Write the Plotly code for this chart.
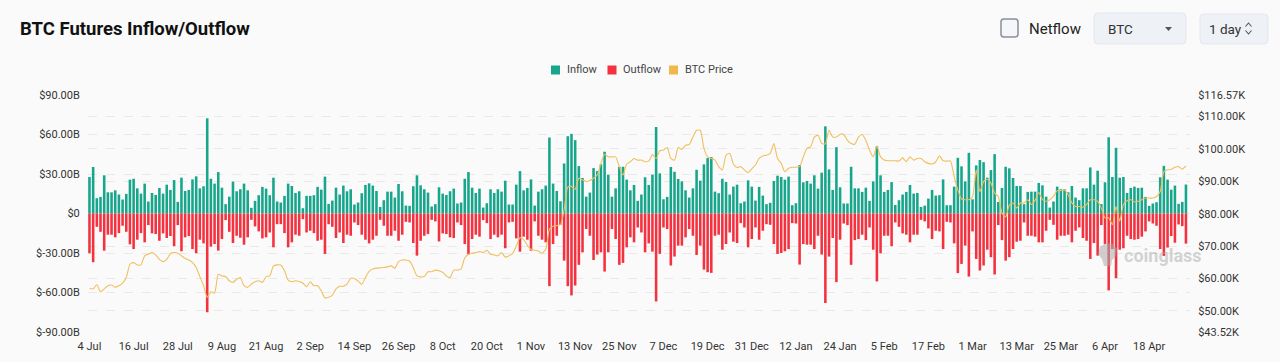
import plotly.graph_objects as go
import pandas as pd

# ---------------- data ----------------
START_DATE = "2024-07-04"

INFLOW_B = [
    27.7, 35.3, 11.6, 12.6, 29.0, 16.1, 16.1, 17.6, 14.4, 10.6,
    14.9, 25.7, 26.4, 19.1, 15.1, 22.7, 9.1, 15.6, 14.1, 19.4,
    15.1, 21.9, 17.9, 25.4, 8.8, 27.2, 17.1, 17.9, 25.9, 28.2,
    19.1, 20.7, 72.3, 26.4, 22.7, 31.5, 19.6, 7.1, 12.8, 24.2,
    16.9, 18.4, 22.7, 17.6, 4.3, 9.6, 13.9, 20.2, 18.9, 13.9,
    27.2, 9.1, 8.3, 13.4, 22.7, 20.9, 15.6, 16.9, 4.0, 13.4,
    13.4, 13.9, 20.2, 18.1, 28.0, 7.3, 9.8, 19.6, 14.4, 21.2,
    16.9, 18.4, 6.8, 8.3, 15.4, 21.7, 22.9, 21.2, 17.1, 5.0,
    10.1, 16.6, 16.6, 12.1, 22.4, 16.9, 6.0, 5.8, 20.7, 29.0,
    21.4, 18.4, 15.9, 5.3, 7.1, 19.9, 15.1, 14.1, 16.9, 18.9,
    7.6, 8.3, 26.4, 31.5, 19.6, 15.6, 18.9, 4.5, 7.8, 18.4,
    15.6, 18.4, 16.6, 24.9, 6.8, 6.8, 21.9, 32.2, 17.6, 19.4,
    25.9, 6.0, 16.6, 18.4, 21.2, 57.7, 22.7, 17.1, 9.3, 38.0,
    58.7, 60.5, 55.7, 36.0, 27.0, 12.8, 15.9, 34.5, 32.2, 37.3,
    46.9, 29.5, 12.8, 19.1, 35.5, 35.5, 25.7, 17.6, 21.7, 9.6,
    14.4, 27.5, 21.7, 29.5, 65.7, 30.5, 10.8, 12.6, 35.3, 31.7,
    26.2, 24.4, 17.6, 12.1, 19.1, 33.2, 24.9, 37.3, 42.1, 42.8,
    16.6, 15.4, 26.4, 23.9, 14.4, 20.4, 21.9, 7.8, 9.1, 25.2,
    20.4, 9.8, 20.2, 13.6, 7.1, 8.1, 24.7, 28.7, 27.7, 25.7,
    28.0, 6.3, 7.8, 36.8, 23.7, 24.7, 22.7, 29.0, 18.9, 31.0,
    66.2, 33.5, 17.9, 50.4, 19.9, 7.6, 7.6, 35.5, 19.1, 19.1,
    16.4, 19.6, 9.6, 24.4, 51.1, 29.0, 16.4, 17.9, 23.9, 6.5,
    10.1, 14.4, 16.4, 21.7, 15.1, 15.6, 5.0, 6.0, 11.3, 17.9,
    13.6, 13.9, 25.9, 6.3, 6.3, 20.4, 42.3, 35.8, 24.4, 46.1,
    10.8, 36.5, 40.6, 39.0, 27.2, 33.0, 45.1, 8.8, 19.4, 35.5,
    34.3, 27.0, 20.9, 20.9, 7.1, 16.4, 16.6, 16.6, 23.2, 21.4,
    12.8, 4.5, 9.1, 20.4, 18.4, 18.4, 16.1, 20.9, 12.1, 10.1,
    19.1, 19.1, 35.0, 21.9, 32.5, 7.1, 23.7, 57.9, 27.7, 49.9,
    27.2, 27.7, 15.6, 19.4, 20.4, 19.4, 19.6, 12.6, 5.8, 7.6,
    8.6, 27.5, 36.2, 25.7, 18.1, 21.2, 7.3, 8.8, 22.0,
]

OUTFLOW_B = [
    30.2, 37.0, 10.1, 13.9, 28.2, 16.1, 16.1, 18.1, 14.9, 9.3,
    13.9, 23.4, 27.0, 19.9, 14.9, 21.9, 8.8, 15.1, 15.6, 20.7,
    15.1, 18.6, 17.1, 24.9, 8.8, 28.7, 18.1, 17.1, 27.0, 30.2,
    19.9, 22.7, 75.0, 25.2, 23.2, 28.2, 19.4, 5.0, 13.9, 22.4,
    16.9, 18.4, 23.7, 18.1, 4.8, 9.8, 13.6, 18.9, 18.1, 14.4,
    25.7, 8.1, 8.1, 14.9, 25.7, 21.9, 16.1, 16.9, 4.3, 14.4,
    13.1, 14.9, 20.7, 19.9, 30.7, 8.1, 10.1, 18.6, 14.4, 22.4,
    16.1, 16.9, 6.8, 8.8, 16.1, 19.9, 22.7, 19.9, 16.9, 4.8,
    9.3, 16.9, 16.9, 13.1, 20.7, 16.1, 6.3, 6.8, 22.4, 32.0,
    20.7, 16.9, 15.6, 4.8, 6.0, 21.2, 15.1, 15.6, 18.1, 18.6,
    6.8, 8.8, 23.2, 31.2, 19.4, 16.1, 17.6, 5.0, 7.3, 19.4,
    16.1, 18.1, 16.1, 26.4, 6.8, 6.3, 18.9, 29.0, 17.6, 19.9,
    28.2, 6.0, 16.9, 19.9, 21.9, 55.2, 23.2, 16.9, 8.6, 35.8,
    55.2, 62.2, 54.7, 39.0, 29.5, 11.8, 16.9, 35.3, 31.2, 29.5,
    44.1, 29.5, 11.8, 19.4, 39.0, 37.5, 25.7, 18.1, 21.9, 10.6,
    14.4, 29.5, 22.7, 29.0, 66.8, 30.7, 10.6, 11.8, 39.5, 32.7,
    24.4, 24.4, 18.1, 11.8, 16.9, 31.5, 24.4, 42.6, 44.6, 45.1,
    16.9, 16.1, 27.5, 23.2, 14.4, 21.4, 22.4, 7.3, 10.6, 25.7,
    19.4, 10.6, 19.9, 13.1, 8.1, 8.6, 23.2, 30.7, 30.0, 28.7,
    27.0, 7.3, 7.6, 38.8, 23.2, 23.7, 23.7, 27.0, 16.9, 31.2,
    68.0, 32.7, 18.6, 52.1, 19.9, 7.6, 8.8, 39.0, 20.2, 19.4,
    16.1, 20.2, 10.6, 27.5, 51.6, 30.2, 16.9, 16.9, 24.9, 6.8,
    10.1, 15.1, 16.1, 21.9, 16.1, 16.1, 4.8, 6.0, 11.3, 19.4,
    13.1, 13.6, 27.0, 6.3, 6.8, 22.7, 45.3, 38.3, 24.4, 47.9,
    13.6, 34.5, 43.3, 39.5, 27.5, 33.2, 46.3, 8.8, 20.2, 35.8,
    33.2, 27.0, 21.4, 20.7, 6.8, 16.9, 16.9, 17.6, 21.9, 21.9,
    13.1, 4.8, 8.6, 19.9, 16.9, 16.9, 16.1, 21.9, 13.1, 10.6,
    18.6, 20.7, 34.5, 22.4, 32.0, 8.8, 23.2, 58.4, 27.0, 49.1,
    27.5, 26.4, 16.9, 19.4, 19.9, 19.4, 17.6, 13.6, 6.0, 7.6,
    9.3, 27.0, 32.2, 25.9, 17.1, 22.2, 8.3, 9.6, 22.9,
]

BTC_PRICE_K = [
    57.0, 56.8, 58.1, 55.9, 56.8, 57.8, 58.0, 57.3, 57.8, 58.6,
    60.3, 64.4, 64.9, 64.2, 64.2, 67.0, 67.5, 68.0, 67.3, 65.9,
    65.2, 65.9, 67.7, 68.0, 67.8, 67.0, 66.2, 65.7, 64.9, 63.4,
    60.6, 57.8, 54.2, 55.9, 55.5, 61.3, 60.8, 60.6, 59.3, 58.8,
    59.8, 60.3, 57.8, 57.3, 58.3, 59.0, 59.3, 58.8, 60.6, 60.8,
    63.9, 64.2, 64.2, 62.4, 59.5, 59.0, 59.3, 59.1, 58.6, 57.5,
    59.0, 57.8, 57.8, 56.2, 54.0, 54.2, 54.9, 56.8, 57.6, 57.6,
    58.3, 60.1, 60.0, 59.2, 58.2, 60.3, 62.2, 62.9, 63.2, 63.3,
    63.4, 63.6, 63.9, 63.2, 65.2, 65.7, 65.7, 65.4, 63.4, 60.8,
    60.5, 60.6, 62.1, 62.1, 62.6, 62.4, 61.9, 60.8, 60.3, 62.6,
    62.6, 62.9, 66.4, 67.5, 67.8, 68.0, 68.3, 68.0, 68.7, 67.5,
    67.3, 67.0, 68.0, 66.6, 67.0, 67.7, 70.0, 72.6, 72.0, 70.2,
    69.0, 68.7, 68.5, 67.8, 69.0, 75.1, 76.1, 76.3, 76.6, 81.2,
    88.2, 88.4, 87.5, 90.9, 90.4, 89.9, 90.2, 90.9, 91.9, 95.5,
    98.3, 97.5, 97.5, 97.5, 94.5, 91.9, 95.3, 96.0, 97.0, 96.5,
    96.5, 96.0, 96.2, 98.2, 97.0, 99.4, 99.6, 100.4, 97.0, 96.5,
    100.4, 99.8, 101.1, 101.3, 103.6, 105.7, 105.7, 100.1, 97.5, 97.0,
    96.5, 94.5, 93.5, 98.0, 98.6, 95.3, 94.2, 94.5, 93.5, 92.6,
    93.8, 95.0, 97.0, 97.8, 98.0, 98.6, 101.6, 97.0, 95.5, 92.9,
    94.0, 94.3, 94.3, 94.5, 97.5, 100.1, 100.6, 103.6, 104.2, 101.6,
    101.5, 105.7, 103.6, 103.6, 104.5, 104.4, 102.6, 101.6, 101.4, 103.6,
    104.4, 102.6, 99.6, 97.5, 100.8, 97.5, 96.5, 96.3, 96.3, 96.3,
    96.2, 97.2, 96.0, 97.5, 96.5, 97.0, 97.0, 96.0, 95.5, 95.3,
    96.0, 97.8, 96.3, 96.2, 96.2, 91.4, 87.3, 84.5, 84.3, 84.3,
    85.3, 93.5, 86.8, 89.9, 90.6, 89.4, 86.3, 85.3, 80.2, 79.0,
    82.6, 83.3, 81.7, 83.3, 83.3, 84.3, 82.8, 84.1, 86.5, 84.3,
    83.8, 84.3, 85.3, 87.1, 87.1, 87.3, 85.8, 83.3, 82.2, 82.2,
    82.0, 82.8, 84.3, 84.3, 83.8, 81.7, 78.7, 78.7, 76.6, 82.2,
    77.7, 82.8, 84.0, 84.3, 83.6, 83.8, 84.3, 84.8, 84.8, 84.8,
    85.3, 86.8, 92.9, 93.5, 93.7, 94.3, 94.5, 93.7, 94.7,
]

X_TICK_LABELS = [
    "4 Jul", "16 Jul", "28 Jul", "9 Aug", "21 Aug", "2 Sep", "14 Sep",
    "26 Sep", "8 Oct", "20 Oct", "1 Nov", "13 Nov", "25 Nov", "7 Dec",
    "19 Dec", "31 Dec", "12 Jan", "24 Jan", "5 Feb", "17 Feb", "1 Mar",
    "13 Mar", "25 Mar", "6 Apr", "18 Apr",
]
LEFT_TICK_VALUES = [90, 60, 30, 0, -30, -60, -90]
LEFT_TICK_LABELS = ["$90.00B", "$60.00B", "$30.00B", "$0",
                    "$-30.00B", "$-60.00B", "$-90.00B"]
RIGHT_TICK_VALUES = [116.57, 110, 100, 90, 80, 70, 60, 50, 43.52]
RIGHT_TICK_LABELS = ["$116.57K", "$110.00K", "$100.00K", "$90.00K", "$80.00K",
                     "$70.00K", "$60.00K", "$50.00K", "$43.52K"]

# ---------------- layout helpers ----------------
W, H = 1280, 362
L, R, T, B = 88, 1190, 95, 332
FONT = "Roboto, 'Noto Sans', sans-serif"
INFLOW_C = "#17a68b"
OUTFLOW_C = "#f4323f"
PRICE_C = "#f1bf5e"
BG = "#fafafa"


def PX(x):
    return (x - L) / (R - L)


def PY(y):
    return (B - y) / (B - T)


def rrect(x0, y0, x1, y1, r):
    pts = [
        f"M {PX(x0 + r)} {PY(y0)}",
        f"L {PX(x1 - r)} {PY(y0)}",
        f"Q {PX(x1)} {PY(y0)} {PX(x1)} {PY(y0 + r)}",
        f"L {PX(x1)} {PY(y1 - r)}",
        f"Q {PX(x1)} {PY(y1)} {PX(x1 - r)} {PY(y1)}",
        f"L {PX(x0 + r)} {PY(y1)}",
        f"Q {PX(x0)} {PY(y1)} {PX(x0)} {PY(y1 - r)}",
        f"L {PX(x0)} {PY(y0 + r)}",
        f"Q {PX(x0)} {PY(y0)} {PX(x0 + r)} {PY(y0)}",
        "Z",
    ]
    return " ".join(pts)


def poly(points, close=True):
    s = " ".join(("M" if i == 0 else "L") + f" {PX(x)} {PY(y)}" for i, (x, y) in enumerate(points))
    return s + (" Z" if close else "")


dates = pd.date_range(START_DATE, periods=len(INFLOW_B), freq="D")
one_day = pd.Timedelta(days=1)

fig = go.Figure()
fig.add_trace(go.Bar(x=dates, y=INFLOW_B, name="Inflow", marker_color=INFLOW_C,
                     marker_line_width=0, showlegend=False))
fig.add_trace(go.Bar(x=dates, y=[-v for v in OUTFLOW_B], name="Outflow",
                     marker_color=OUTFLOW_C, marker_line_width=0, showlegend=False))
fig.add_trace(go.Scatter(x=dates, y=BTC_PRICE_K, name="BTC Price", yaxis="y2", mode="lines",
                         line=dict(color=PRICE_C, width=1.1, shape="spline", smoothing=0.6),
                         showlegend=False))

shapes = []
annotations = []

# title
annotations.append(dict(x=PX(18), y=PY(29), xref="paper", yref="paper", xanchor="left",
                        yanchor="middle", showarrow=False,
                        text="<b>BTC Futures Inflow/Outflow</b>",
                        font=dict(family=FONT, size=18.5, color="#111111")))

# top-right controls
shapes.append(dict(type="path", xref="paper", yref="paper", path=rrect(1001, 19, 1018, 37, 3),
                   line=dict(color="#8a8f96", width=1.5), fillcolor="#f4f6f9"))
annotations.append(dict(x=PX(1027), y=PY(28.5), xref="paper", yref="paper", xanchor="left",
                        yanchor="middle", showarrow=False, text="Netflow",
                        font=dict(family=FONT, size=15, color="#222222")))
shapes.append(dict(type="path", xref="paper", yref="paper", path=rrect(1094, 13, 1186, 44, 4),
                   line=dict(color="#e3e7ec", width=1), fillcolor="#eef1f5"))
annotations.append(dict(x=PX(1106), y=PY(28.5), xref="paper", yref="paper", xanchor="left",
                        yanchor="middle", showarrow=False, text="BTC",
                        font=dict(family=FONT, size=13.5, color="#333333")))
shapes.append(dict(type="path", xref="paper", yref="paper",
                   path=poly([(1165, 27), (1172, 27), (1168.5, 31)]),
                   line=dict(width=0), fillcolor="#555555"))
shapes.append(dict(type="path", xref="paper", yref="paper", path=rrect(1200, 14, 1268, 44, 4),
                   line=dict(color="#e3e7ec", width=1), fillcolor="#eef1f5"))
annotations.append(dict(x=PX(1207), y=PY(28.5), xref="paper", yref="paper", xanchor="left",
                        yanchor="middle", showarrow=False, text="1 day",
                        font=dict(family=FONT, size=13.5, color="#333333")))
shapes.append(dict(type="path", xref="paper", yref="paper",
                   path=poly([(1245.5, 26.5), (1248.5, 23), (1251.5, 26.5)], close=False),
                   line=dict(color="#555555", width=1.1)))
shapes.append(dict(type="path", xref="paper", yref="paper",
                   path=poly([(1245.5, 30.5), (1248.5, 34), (1251.5, 30.5)], close=False),
                   line=dict(color="#555555", width=1.1)))

# manual legend
for sx, tx, color, label in [(551, 565, INFLOW_C, "Inflow"),
                             (607.5, 621, OUTFLOW_C, "Outflow"),
                             (669, 683, "#f0b84a", "BTC Price")]:
    shapes.append(dict(type="rect", xref="paper", yref="paper", x0=PX(sx), x1=PX(sx + 9),
                       y0=PY(74.5), y1=PY(65.5), line=dict(width=0), fillcolor=color))
    annotations.append(dict(x=PX(tx), y=PY(70), xref="paper", yref="paper", xanchor="left",
                            yanchor="middle", showarrow=False, text=label,
                            font=dict(family=FONT, size=11, color="#444444")))

# watermark
shapes.append(dict(type="path", xref="paper", yref="paper",
                   path=poly([(1100, 247), (1106, 243), (1113, 244), (1117, 249), (1116, 256),
                              (1112, 260), (1111, 266), (1104, 266), (1102, 259), (1098, 254)]),
                   line=dict(width=0), fillcolor="rgba(170,170,170,0.55)"))
annotations.append(dict(x=PX(1122), y=PY(255), xref="paper", yref="paper", xanchor="left",
                        yanchor="middle", showarrow=False, text="<b>coinglass</b>",
                        font=dict(family=FONT, size=18, color="rgba(170,170,170,0.5)")))

grid = dict(showgrid=True, gridcolor="#e9e9e9", griddash="dash", gridwidth=1, zeroline=False,
            showline=False, automargin=False)

fig.update_layout(
    width=W, height=H, autosize=False,
    margin=dict(l=L, r=W - R, t=T, b=H - B, pad=0),
    paper_bgcolor=BG, plot_bgcolor=BG,
    barmode="relative", bargap=0.3,
    font=dict(family=FONT, size=11, color="#333333"),
    showlegend=False,
    xaxis=dict(type="date", range=[dates[0] - 0.4 * one_day, dates[-1] + 1.1 * one_day],
               tickmode="array", tickvals=list(dates[::12]), ticktext=X_TICK_LABELS,
               showgrid=False, zeroline=False, showline=False, ticks="outside", ticklen=4,
               tickcolor="rgba(0,0,0,0)", automargin=False,
               tickfont=dict(family=FONT, size=11, color="#333333")),
    yaxis=dict(range=[-90, 90], tickmode="array", tickvals=LEFT_TICK_VALUES,
               ticktext=LEFT_TICK_LABELS, ticks="outside", ticklen=5,
               tickcolor="rgba(0,0,0,0)", tickfont=dict(family=FONT, size=11, color="#333333"),
               **grid),
    yaxis2=dict(range=[43.52, 116.57], overlaying="y", side="right", tickmode="array",
                tickvals=RIGHT_TICK_VALUES, ticktext=RIGHT_TICK_LABELS, ticks="outside",
                ticklen=5, tickcolor="rgba(0,0,0,0)",
                tickfont=dict(family=FONT, size=11, color="#333333"), **grid),
    shapes=shapes,
    annotations=annotations,
)

fig.write_html("out.html", config={"displayModeBar": False},
               post_script="document.body.style.margin='0';document.body.style.overflow='hidden';")
